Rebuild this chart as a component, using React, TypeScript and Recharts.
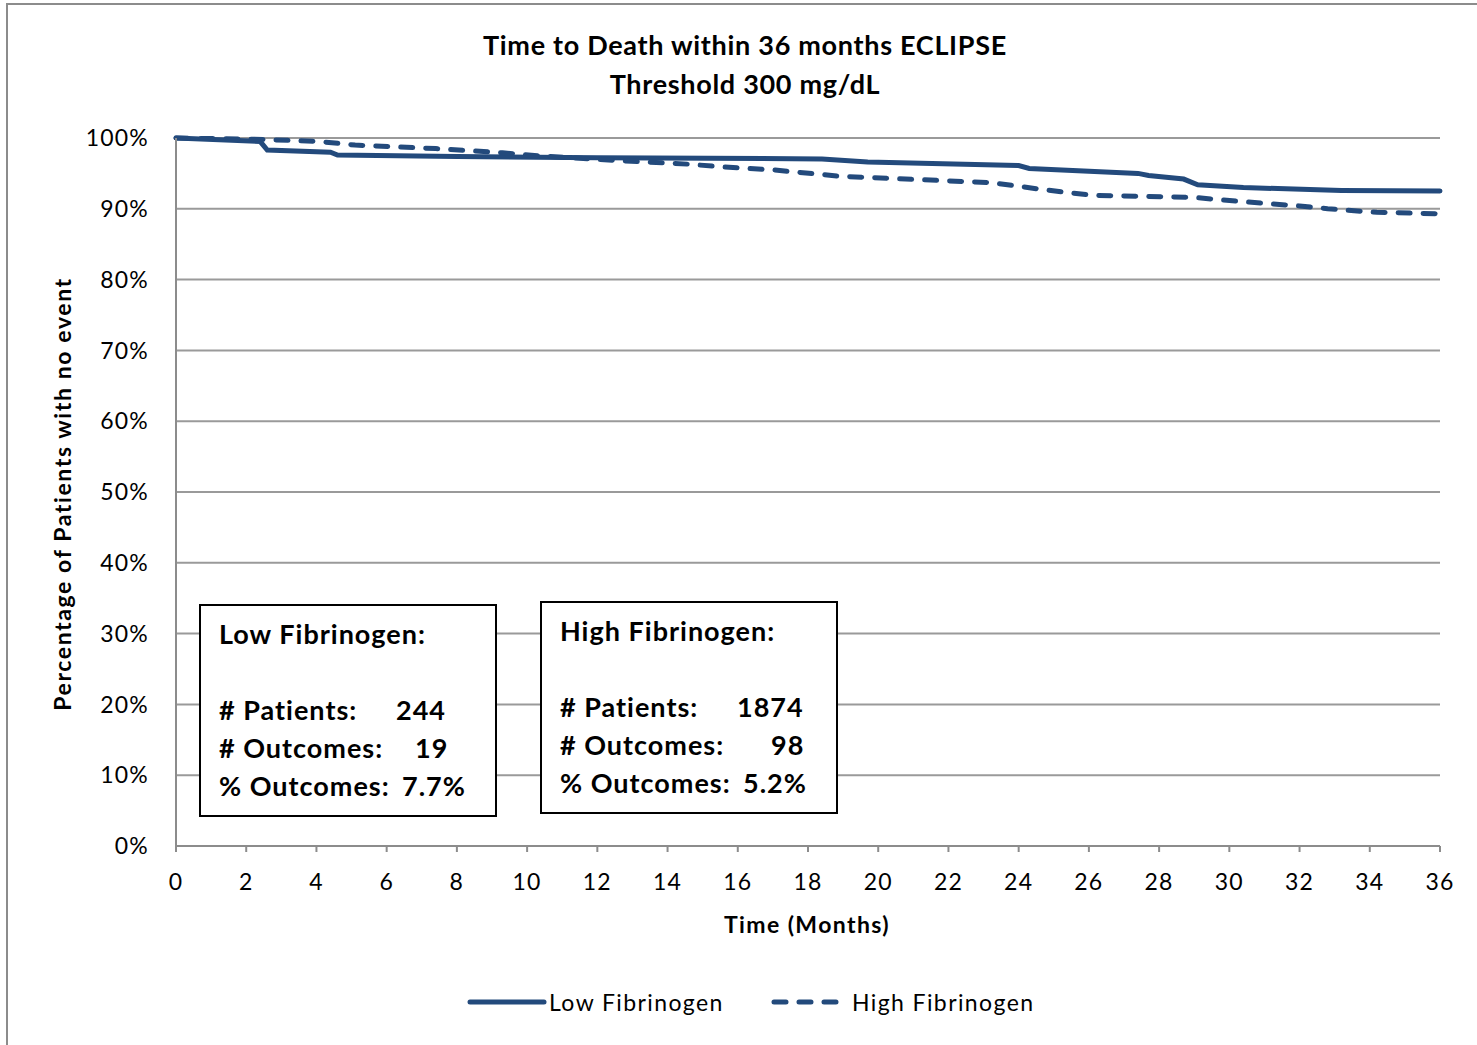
import React from 'react';
import { LineChart, Line, XAxis, YAxis, CartesianGrid } from 'recharts';

const lowTimes = [0, 2.4, 2.6, 4.4, 4.6, 8, 12, 18.4, 19.7, 24.0, 24.3, 27.4, 27.7, 28.7, 29.1, 30.4, 33.2, 36];
const lowValues = [100, 99.5, 98.3, 98.0, 97.6, 97.4, 97.2, 97.05, 96.6, 96.1, 95.7, 95.0, 94.7, 94.2, 93.4, 93.0, 92.6, 92.5];

const highTimes = [0, 2.5, 4.1, 5.1, 7.4, 8.4, 9.3, 10.3, 11.9, 14.6, 15.6, 17.0, 18.9, 20.3, 23.2, 24.0, 24.7, 26.1, 29.0, 30.4, 32.0, 32.8, 34.2, 36];
const highValues = [100, 99.8, 99.5, 99.0, 98.5, 98.2, 97.9, 97.5, 97.0, 96.3, 95.9, 95.5, 94.6, 94.3, 93.7, 93.2, 92.7, 91.9, 91.6, 91.0, 90.4, 90.0, 89.5, 89.3];

const xTicks = [0, 2, 4, 6, 8, 10, 12, 14, 16, 18, 20, 22, 24, 26, 28, 30, 32, 34, 36];
const yTicks = [0, 10, 20, 30, 40, 50, 60, 70, 80, 90, 100];

const lowStats = { title: 'Low Fibrinogen:', patients: '244', outcomes: '19', pct: '7.7%' };
const highStats = { title: 'High Fibrinogen:', patients: '1874', outcomes: '98', pct: '5.2%' };

const lowData = lowTimes.map((t, i) => ({ t, v: lowValues[i] }));
const highData = highTimes.map((t, i) => ({ t, v: highValues[i] }));

const blue = '#234A7C';
const font = 'Lato, Calibri, sans-serif';

const StatBox = ({ left, top, s, offs }: any) => (
  <div
    style={{
      position: 'absolute', left, top, width: 298, height: 213, border: '2px solid #000',
      background: '#fff', fontFamily: font, fontWeight: 700, fontSize: 27, letterSpacing: 1, color: '#000',
      boxSizing: 'border-box',
    }}
  >
    <div style={{ position: 'absolute', left: 18, top: 11 }}>{s.title}</div>
    <div style={{ position: 'absolute', left: 18, top: 87 }}># Patients:</div>
    <div style={{ position: 'absolute', left: offs[0], top: 87 }}>{s.patients}</div>
    <div style={{ position: 'absolute', left: 18, top: 125 }}># Outcomes:</div>
    <div style={{ position: 'absolute', left: offs[1], top: 125 }}>{s.outcomes}</div>
    <div style={{ position: 'absolute', left: 18, top: 163 }}>% Outcomes:</div>
    <div style={{ position: 'absolute', left: offs[2], top: 163 }}>{s.pct}</div>
  </div>
);

const tickStyle = { fill: '#000', fontSize: 23, fontFamily: font, letterSpacing: 1.2 };

export default function App() {
  return (
    <div style={{ position: 'absolute', left: 0, top: 0, width: 1477, height: 1045, background: '#fff', overflow: 'hidden', fontFamily: font }}>
      <div style={{ position: 'absolute', left: 6, top: 3, width: 1500, height: 1100, border: '2px solid #8c8c8c' }} />
      <div style={{ position: 'absolute', left: 0, width: 1490, top: 25, textAlign: 'center', fontWeight: 700, fontSize: 27, letterSpacing: 0.7, lineHeight: '39px', color: '#000' }}>
        Time to Death within 36 months ECLIPSE<br />Threshold 300 mg/dL
      </div>
      <div style={{ position: 'absolute', left: 0, top: 0 }}>
        <LineChart width={1477} height={1045} margin={{ top: 138, right: 37, bottom: 159, left: 0 }}>
          <CartesianGrid vertical={false} stroke="#9a9a9a" strokeWidth={2} />
          <XAxis
            dataKey="t" type="number" domain={[0, 36]} ticks={xTicks} allowDuplicatedCategory={false}
            height={40} stroke="#8c8c8c" strokeWidth={2} tickSize={6}
            tick={tickStyle} tickMargin={22}
          />
          <YAxis
            type="number" domain={[0, 100]} ticks={yTicks} width={176} stroke="#8c8c8c" strokeWidth={2}
            tickLine={false} tickFormatter={(v) => `${v}%`} tickMargin={21}
            tick={tickStyle}
          />
          <Line data={lowData} dataKey="v" type="linear" stroke={blue} strokeWidth={5} dot={false} isAnimationActive={false} strokeLinecap="round" />
          <Line data={highData} dataKey="v" type="linear" stroke={blue} strokeWidth={5} strokeDasharray="12 13" strokeLinecap="round" dot={false} isAnimationActive={false} />
        </LineChart>
      </div>
      <div style={{ position: 'absolute', left: 0, width: 1614, top: 910, textAlign: 'center', fontWeight: 700, fontSize: 23, letterSpacing: 1.4, color: '#000' }}>
        Time (Months)
      </div>
      <div style={{ position: 'absolute', left: 62, top: 494, transform: 'translate(-50%, -50%) rotate(-90deg)', whiteSpace: 'nowrap', fontWeight: 700, fontSize: 23, letterSpacing: 1.6, color: '#000' }}>
        Percentage of Patients with no event
      </div>
      <StatBox left={199} top={604} s={lowStats} offs={[195, 214, 201]} />
      <StatBox left={540} top={601} s={highStats} offs={[195, 229, 201]} />
      <svg style={{ position: 'absolute', left: 0, top: 0 }} width={1477} height={1045}>
        <line x1={470} y1={1002} x2={544} y2={1002} stroke={blue} strokeWidth={5} strokeLinecap="round" />
        <line x1={774} y1={1002} x2={838} y2={1002} stroke={blue} strokeWidth={5} strokeLinecap="round" strokeDasharray="12 13" />
      </svg>
      <div style={{ position: 'absolute', left: 549, top: 988, fontSize: 23, letterSpacing: 1.4, color: '#000' }}>Low Fibrinogen</div>
      <div style={{ position: 'absolute', left: 852, top: 988, fontSize: 23, letterSpacing: 1.4, color: '#000' }}>High Fibrinogen</div>
    </div>
  );
}
